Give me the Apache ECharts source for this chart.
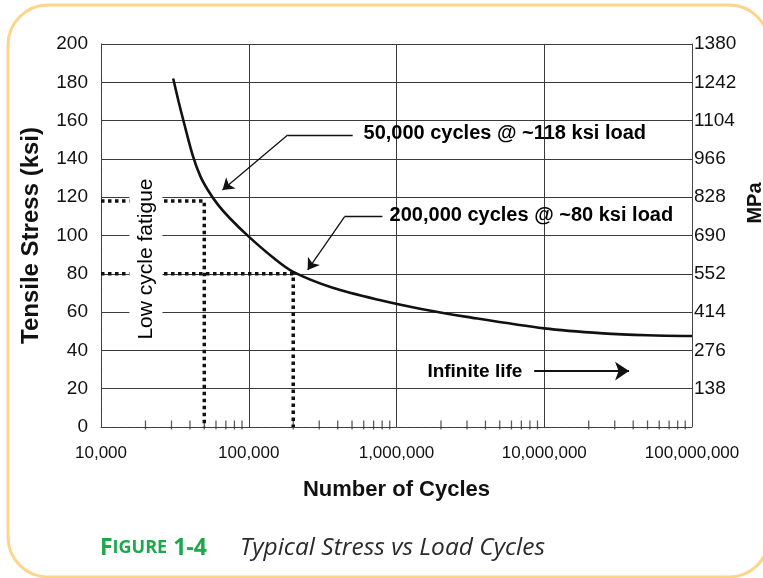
<!DOCTYPE html>
<html>
<head>
<meta charset="utf-8">
<script src="https://cdn.jsdelivr.net/npm/echarts@6/dist/echarts.min.js"></script>
<style>
html,body{margin:0;padding:0;background:#fff;}
#chart{width:763px;height:578px;}
</style>
</head>
<body>
<div id="chart"></div>
<script>
// ---- data ----
const cycles = [30800, 33500, 36400, 41700, 47000, 53100, 62000, 74500, 100000, 146000, 200000, 370000, 767000, 1500000, 3000000, 10000000, 25000000, 50000000, 100000000];
const stressKsi = [182, 170, 159, 142, 131, 123.5, 116, 109, 99.4, 88.5, 81, 72.7, 66.3, 61.5, 57.5, 51.5, 48.9, 47.9, 47.5];

const lowCyclePoint = [[10000, 118], [50000, 118], [50000, 0]];
const highCyclePoint = [[10000, 80], [200000, 80], [200000, 0]];

const minorTickCycles = [20000,30000,40000,50000,60000,70000,80000,90000,
  200000,300000,400000,500000,600000,700000,800000,900000,
  2000000,3000000,4000000,5000000,6000000,7000000,8000000,9000000,
  20000000,30000000,40000000,50000000,60000000,70000000,80000000,90000000];

const xTickLabels = ['10,000', '100,000', '1,000,000', '10,000,000', '100,000,000'];
const ksiMax = 200, ksiStep = 20;
const mpaMax = 1380, mpaStep = 138;

const annText1 = '50,000 cycles @ ~118 ksi load';
const annText2 = '200,000 cycles @ ~80 ksi load';
const annText3 = 'Infinite life';
const lowCycleText = 'Low cycle fatigue';

// annotation anchors (data coords)
const ann1Anchor = [598000, 153.5];
const ann1Leader = [[505000, 152.5], [183400, 152.5]];
const ann1Arrow = [[183400, 152.5], [66400, 123.8]];
const ann2Anchor = [898000, 110.7];
const ann2Leader = [[803000, 109.8], [445600, 109.8]];
const ann2Arrow = [[445600, 109.8], [250600, 82]];
const ann3Anchor = [1618000, 29];
const ann3Arrow = [[8550000, 29.2], [37500000, 29.2]];
const lowCycleAnchor = [20140, 87.7];

function fmtX(v){
  const e = Math.round(Math.log10(v)) - 4;
  return xTickLabels[e] !== undefined ? xTickLabels[e] : '';
}

const chart = echarts.init(document.getElementById('chart'), null, {renderer:'canvas'});
const font = '"Liberation Sans", Arial, sans-serif';
const capFont = '"Open Sans", "Noto Sans", sans-serif';
const gridColor = '#3a3a3a';

const option = {
  backgroundColor: '#fff',
  animation: false,
  grid: {left: 101, right: 71, top: 44, bottom: 151, containLabel: false},
  xAxis: {
    type: 'log', logBase: 10, min: 10000, max: 100000000,
    name: 'Number of Cycles', nameLocation: 'middle', nameGap: 52,
    nameTextStyle: {fontFamily: font, fontSize: 22, fontWeight: 'bold', color: '#111'},
    axisLine: {show: true, lineStyle: {color: '#444', width: 1, type: [3, 5]}},
    axisTick: {show: false},
    axisLabel: {formatter: fmtX, fontFamily: font, fontSize: 17, color: '#111', margin: 18},
    splitLine: {show: true, lineStyle: {color: gridColor, width: 1}}
  },
  yAxis: [{
    type: 'value', min: 0, max: ksiMax, interval: ksiStep,
    name: 'Tensile Stress (ksi)', nameLocation: 'middle', nameGap: 58, nameRotate: 90,
    nameTextStyle: {fontFamily: font, fontSize: 24, fontWeight: 'bold', color: '#111'},
    axisLine: {show: true, lineStyle: {color: '#444', width: 1, type: [6, 4]}},
    axisTick: {show: false},
    axisLabel: {fontFamily: font, fontSize: 19, color: '#111', margin: 13},
    splitLine: {show: true, lineStyle: {color: gridColor, width: 1}}
  }, {
    type: 'value', min: 0, max: mpaMax, interval: mpaStep, position: 'right',
    axisLine: {show: true, lineStyle: {color: '#444', width: 1}},
    axisTick: {show: false},
    axisLabel: {formatter: v => String(v), showMinLabel: false, fontFamily: font, fontSize: 19, color: '#111', margin: 2},
    splitLine: {show: false}
  }],
  series: [
    {
      type: 'line', name: 'S-N', data: cycles.map((c, i) => [c, stressKsi[i]]),
      smooth: 0.3, showSymbol: false, symbol: 'none',
      lineStyle: {color: '#111', width: 2.6}, z: 5
    },
    {
      type: 'line', data: lowCyclePoint, showSymbol: false, symbol: 'none',
      lineStyle: {color: '#111', width: 3.5, type: [3.5, 3.5]}, z: 4
    },
    {
      type: 'line', data: highCyclePoint, showSymbol: false, symbol: 'none',
      lineStyle: {color: '#111', width: 3.5, type: [3.5, 3.5]}, z: 4
    },
    {
      type: 'scatter', data: minorTickCycles.map(c => [c, 0]),
      symbol: 'rect', symbolSize: [1.3, 9], symbolOffset: [0, -2],
      itemStyle: {color: '#333'}, silent: true, z: 3, clip: false
    },
    {
      type: 'lines', coordinateSystem: 'cartesian2d',
      symbol: ['none', 'none'],
      lineStyle: {color: '#111', width: 1.3, opacity: 1},
      data: [{coords: ann1Leader}, {coords: ann2Leader}], z: 6
    },
    {
      type: 'lines', coordinateSystem: 'cartesian2d',
      symbol: ['none', 'arrow'], symbolSize: [0, 11],
      lineStyle: {color: '#111', width: 1.3, opacity: 1},
      data: [{coords: ann1Arrow}, {coords: ann2Arrow}], z: 6
    },
    {
      type: 'lines', coordinateSystem: 'cartesian2d',
      symbol: ['none', 'arrow'], symbolSize: [0, 14],
      lineStyle: {color: '#111', width: 2, opacity: 1},
      data: [{coords: ann3Arrow}], z: 6
    },
    {
      type: 'scatter', symbolSize: 0, itemStyle: {color: '#111', opacity: 1}, z: 10, silent: true,
      data: [
        {value: ann1Anchor, label: {formatter: annText1}},
        {value: ann2Anchor, label: {formatter: annText2}},
        {value: ann3Anchor, label: {formatter: annText3, fontSize: 19}}
      ],
      label: {show: true, position: 'right', distance: 0, fontFamily: font, fontSize: 20, fontWeight: 'bold', color: '#000', opacity: 1}
    },
    {
      type: 'scatter', symbolSize: 0, itemStyle: {color: '#111', opacity: 1}, z: 12, silent: true,
      data: [{value: lowCycleAnchor}],
      label: {show: true, position: 'inside', formatter: lowCycleText, rotate: 90, opacity: 1,
        fontFamily: font, fontSize: 21, color: '#000', backgroundColor: '#fff', padding: [6, 2]}
    }
  ],
  graphic: [
    {type: 'rect', shape: {x: 8, y: 5, width: 761, height: 572, r: 40}, z: -10, silent: true,
     style: {fill: 'none', stroke: '#fdd48a', lineWidth: 3}},
    {type: 'text', x: 755, y: 203, rotation: Math.PI / 2, z: 20,
     style: {text: 'MPa', fontFamily: font, fontSize: 20, fontWeight: 'bold', fill: '#111', align: 'center', verticalAlign: 'middle'}},
    {type: 'text', x: 100, y: 548, z: 20,
     style: {
       text: '{a|F}{b|IGURE}{a| 1-4}',
       verticalAlign: 'middle', align: 'left',
       rich: {
         a: {fontFamily: capFont, fontSize: 23, fontWeight: 'bold', fill: '#1ca84c'},
         b: {fontFamily: capFont, fontSize: 18, fontWeight: 'bold', fill: '#1ca84c'}
       }
     }},
    {type: 'text', x: 240, y: 548, z: 20,
     style: {text: 'Typical Stress vs Load Cycles', fontFamily: capFont, fontSize: 24.5, fontStyle: 'italic',
       fill: '#2a2a2a', verticalAlign: 'middle', align: 'left'}}
  ]
};
chart.setOption(option);
</script>
</body>
</html>
